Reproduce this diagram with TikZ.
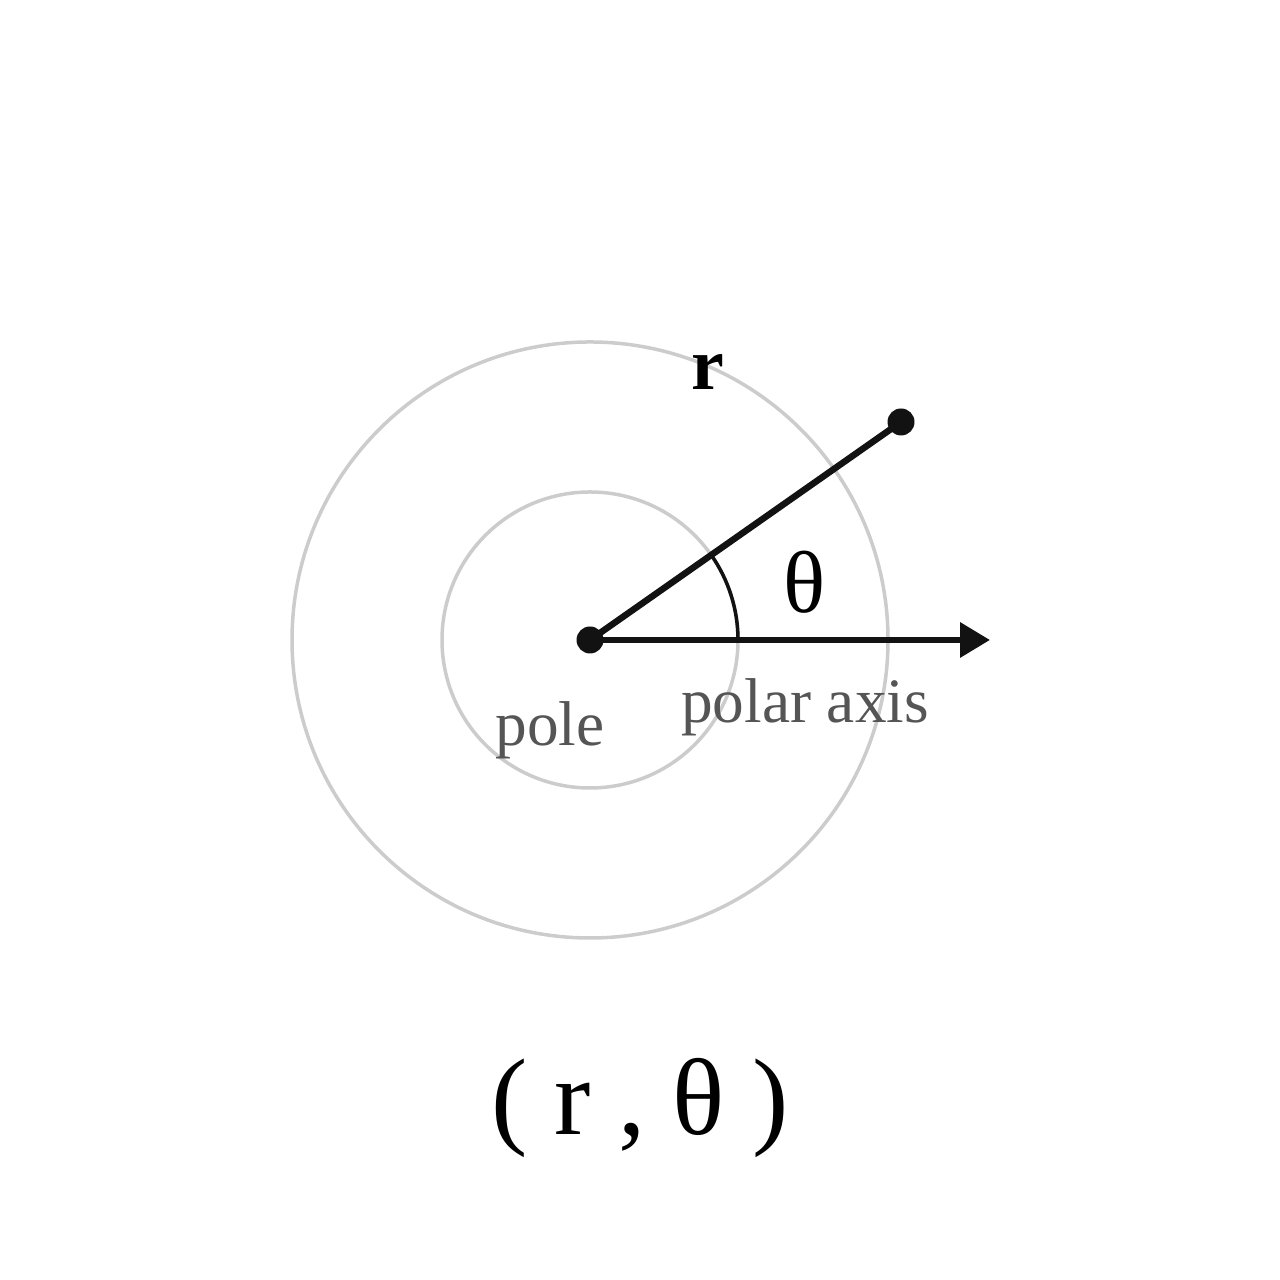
\documentclass[tikz,border=0pt]{standalone}
\usepackage{fontspec}
\setmainfont{Liberation Serif}
\usetikzlibrary{arrows.meta}
\definecolor{ringgray}{HTML}{CCCCCC}
\definecolor{labelgray}{HTML}{555555}

\begin{document}
\begin{tikzpicture}[
  ring/.style={draw=ringgray, line width=0.035cm},
  ray/.style={draw=black!93, line width=0.065cm},
  dotmark/.style={circle, fill=black!93, inner sep=0pt, minimum size=0.27cm},
  gray label/.style={text=labelgray, font=\fontsize{18}{20}\selectfont}]
  \useasboundingbox (0,0) rectangle (12.8,12.8);
  % circles around the pole
  \draw[ring] (5.9,6.4) circle (1.48);
  \draw[ring] (5.9,6.4) circle (2.98);
  \node[dotmark] (pole) at (5.9,6.4) {};
  \node[dotmark] (point) at (9.01,8.58) {};
  \coordinate (axisend) at (9.9,6.4);
  \draw[ray] (pole.center) -- (point.center);
  \draw[ray, -{Triangle[length=0.3cm,width=0.34cm]}] (pole.center) -- (axisend);
  \draw[line width=0.035cm, black!93] (7.38,6.4) arc (0:35:1.48);
  \node[font=\bfseries\fontsize{21}{24}\selectfont] (rlabel) at (7.08,9.08) {r};
  \node[font=\fontsize{25}{28}\selectfont] (thetalabel) at (8.05,6.98) {θ};
  \node[gray label] (polelabel) at (5.5,5.5) {pole};
  \node[gray label] (axislabel) at (8.05,5.73) {polar axis};
  \node[font=\fontsize{31}{35}\selectfont] (coords) at (6.4,1.72) {( r , θ )};
\end{tikzpicture}
\end{document}
